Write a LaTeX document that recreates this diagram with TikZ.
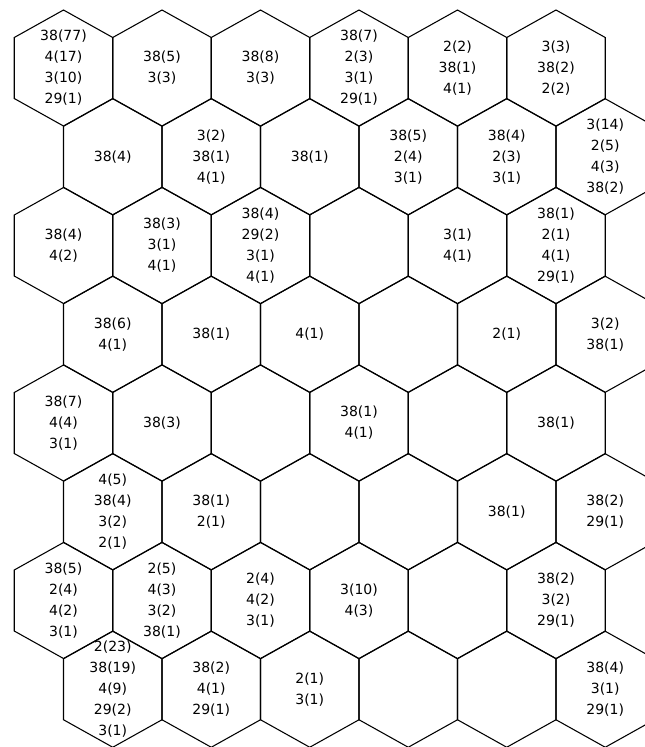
\documentclass[tikz,border=0pt]{standalone}
\usepackage{fontspec}
\setmainfont{DejaVu Sans}
\usepackage{tikz}

\begin{document}
\begin{tikzpicture}[x=0.75pt, y=-0.75pt,
  hexline/.style={line width=0.8pt, black},
  counts/.style={align=center, inner sep=0pt, font=\fontsize{10.5}{15.75}\selectfont}]
  % Rahmen (Bild ist rechts und unten beschnitten)
  \useasboundingbox (0,0) rectangle (645,747);
  \clip (0,0) rectangle (645,747);
  % Waben: 8 Zeilen x 6 Spalten, ungerade Zeilen halb nach rechts versetzt
  \foreach \r in {0,...,7} {
    \foreach \c in {0,...,5} {
      \pgfmathsetmacro{\cx}{63.5+98.5*\c+49.25*mod(\r,2)}
      \pgfmathsetmacro{\cy}{68+88.75*\r}
      \coordinate (m-\r-\c) at (\cx,\cy);
      \draw[hexline] (\cx,\cy-58) -- ++(49.25,27.5) -- ++(0,61) -- ++(-49.25,27.5)
        -- ++(-49.25,-27.5) -- ++(0,-61) -- cycle;
    }
  }
  % Treffer je Wabe: Klasse(Anzahl)
  \foreach \r/\c/\txt in {
    0/0/{38(77)\\4(17)\\3(10)\\29(1)}, 0/1/{38(5)\\3(3)}, 0/2/{38(8)\\3(3)},
    0/3/{38(7)\\2(3)\\3(1)\\29(1)}, 0/4/{2(2)\\38(1)\\4(1)}, 0/5/{3(3)\\38(2)\\2(2)},
    1/0/{38(4)}, 1/1/{3(2)\\38(1)\\4(1)}, 1/2/{38(1)},
    1/3/{38(5)\\2(4)\\3(1)}, 1/4/{38(4)\\2(3)\\3(1)}, 1/5/{3(14)\\2(5)\\4(3)\\38(2)},
    2/0/{38(4)\\4(2)}, 2/1/{38(3)\\3(1)\\4(1)}, 2/2/{38(4)\\29(2)\\3(1)\\4(1)},
    2/4/{3(1)\\4(1)}, 2/5/{38(1)\\2(1)\\4(1)\\29(1)},
    3/0/{38(6)\\4(1)}, 3/1/{38(1)}, 3/2/{4(1)}, 3/4/{2(1)}, 3/5/{3(2)\\38(1)},
    4/0/{38(7)\\4(4)\\3(1)}, 4/1/{38(3)}, 4/3/{38(1)\\4(1)}, 4/5/{38(1)},
    5/0/{4(5)\\38(4)\\3(2)\\2(1)}, 5/1/{38(1)\\2(1)}, 5/4/{38(1)}, 5/5/{38(2)\\29(1)},
    6/0/{38(5)\\2(4)\\4(2)\\3(1)}, 6/1/{2(5)\\4(3)\\3(2)\\38(1)}, 6/2/{2(4)\\4(2)\\3(1)},
    6/3/{3(10)\\4(3)}, 6/5/{38(2)\\3(2)\\29(1)},
    7/0/{2(23)\\38(19)\\4(9)\\29(2)\\3(1)}, 7/1/{38(2)\\4(1)\\29(1)}, 7/2/{2(1)\\3(1)},
    7/5/{38(4)\\3(1)\\29(1)}} {
    \node[counts] (n-\r-\c) at (m-\r-\c) {\txt};
  }
\end{tikzpicture}
\end{document}
